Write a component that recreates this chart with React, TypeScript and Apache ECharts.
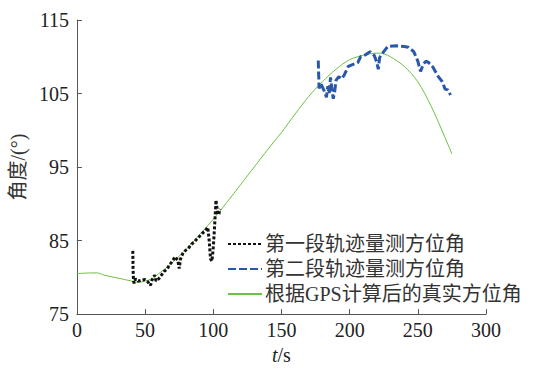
import React, { useEffect, useRef } from "react";
import * as echarts from "echarts";

const xTicks = [0, 50, 100, 150, 200, 250, 300];
const yTicks = [75, 85, 95, 105, 115];

const seriesNames = [
  "第一段轨迹量测方位角",
  "第二段轨迹量测方位角",
  "根据GPS计算后的真实方位角",
];

// true azimuth from GPS
const gpsT = [0, 10, 15, 20, 30, 40, 45, 50, 55, 60, 65, 70, 80, 90, 100, 110, 120, 130, 140, 150, 160, 170, 180, 190, 200, 210, 220, 225, 230, 240, 250, 260, 270, 275];
const gpsV = [80.5, 80.6, 80.6, 80.3, 79.9, 79.5, 79.3, 79.5, 79.8, 80.5, 81.2, 82.0, 83.8, 85.8, 87.9, 90.2, 92.6, 95.0, 97.4, 99.7, 102.2, 104.6, 106.6, 108.3, 109.6, 110.2, 110.5, 110.4, 110.0, 108.7, 106.6, 103.2, 99.0, 96.8];

// first segment measurement
const seg1T = [41, 41.2, 41.5, 42, 43, 45, 47, 50, 52, 54, 55, 57, 58, 60, 62, 64, 66, 68, 70, 72, 74, 75, 76, 78, 80, 82, 84, 86, 88, 90, 92, 94, 96, 97, 98, 99, 100, 101, 102, 103, 104, 105];
const seg1V = [83.6, 81, 79.5, 79.2, 79.8, 79.5, 79.6, 79.7, 79.4, 78.9, 79.6, 80.3, 79.5, 79.8, 80.3, 80.8, 81.1, 81.7, 82.2, 82.8, 82.3, 81.2, 82.5, 83.4, 83.7, 84.0, 84.5, 84.8, 85.2, 85.6, 86.0, 86.3, 86.8, 85, 82.5, 82.2, 84, 87, 90.5, 89, 88.5, 89.3];

// second segment measurement
const seg2T = [177, 177.3, 177.6, 179, 181, 183, 184, 185, 186, 187, 188, 189, 190, 192, 194, 196, 199, 203, 206, 208, 212, 215, 218, 220, 221, 222, 225, 228, 234, 240, 243, 247, 250, 252, 254, 256, 258, 261, 265, 268, 270, 272, 274];
const seg2V = [109.5, 107.5, 105.7, 106.3, 105.5, 104.5, 106, 105, 107.2, 105.6, 104.3, 105.2, 106.8, 107.3, 107, 107.5, 108.7, 109.0, 109.2, 110.0, 110.3, 110.7, 110.2, 109.2, 108.3, 109.9, 110.7, 111.4, 111.5, 111.4, 111.3, 110.7, 109.4, 108.0, 109.0, 109.4, 109.2, 108.6, 107.3, 106.6, 105.6, 105.5, 104.8];

const zip = (a: number[], b: number[]) => a.map((t, i) => [t, b[i]]);

const FONT = '"Liberation Serif", "Noto Sans CJK SC", serif';

export default function App() {
  const ref = useRef<HTMLDivElement>(null);
  useEffect(() => {
    if (!ref.current) return;
    const chart = echarts.init(ref.current, undefined, { renderer: "svg" });
    chart.setOption({
      animation: false,
      backgroundColor: "#fff",
      textStyle: { fontFamily: FONT },
      grid: { left: 74, right: 56, top: 20, bottom: 51 },
      legend: {
        orient: "vertical",
        left: 222,
        top: 229,
        itemGap: 5,
        itemWidth: 34,
        itemHeight: 12,
        data: seriesNames,
        itemStyle: { opacity: 0 },
        textStyle: { fontFamily: FONT, fontSize: 20, color: "#333", padding: [0, 0, 0, -2] },
      },
      xAxis: {
        type: "value",
        min: xTicks[0],
        max: xTicks[xTicks.length - 1],
        interval: 50,
        name: "{i|t}/s",
        nameLocation: "middle",
        nameGap: 26,
        nameTextStyle: {
          fontFamily: FONT,
          fontSize: 20,
          color: "#222",
          rich: { i: { fontStyle: "italic", fontFamily: FONT, fontSize: 20, color: "#222" } },
        },
        axisLine: { lineStyle: { color: "#555", width: 1 } },
        axisTick: { inside: true, length: 5, lineStyle: { color: "#555" } },
        axisLabel: { fontFamily: FONT, fontSize: 20, color: "#222", margin: 6 },
        splitLine: { show: false },
      },
      yAxis: {
        type: "value",
        min: yTicks[0],
        max: yTicks[yTicks.length - 1],
        interval: 10,
        name: "角度/(°)",
        nameLocation: "middle",
        nameGap: 40,
        nameTextStyle: { fontFamily: FONT, fontSize: 20, color: "#333" },
        axisLine: { show: true, lineStyle: { color: "#555", width: 1 } },
        axisTick: { show: true, inside: true, length: 5, lineStyle: { color: "#555" } },
        axisLabel: { fontFamily: FONT, fontSize: 20, color: "#222", margin: 8 },
        splitLine: { show: false },
      },
      series: [
        {
          name: seriesNames[0],
          type: "line",
          data: zip(seg1T, seg1V),
          symbol: "none",
          z: 3,
          lineStyle: { color: "#111", width: 3, type: [3, 2] },
          itemStyle: { color: "#111" },
        },
        {
          name: seriesNames[1],
          type: "line",
          data: zip(seg2T, seg2V),
          symbol: "none",
          z: 3,
          lineStyle: { color: "#2a58a8", width: 3, type: [8, 3] },
          itemStyle: { color: "#2a58a8" },
        },
        {
          name: seriesNames[2],
          type: "line",
          data: zip(gpsT, gpsV),
          symbol: "none",
          smooth: 0.3,
          z: 2,
          lineStyle: { color: "#6cc043", width: 1 },
          itemStyle: { color: "#6cc043" },
        },
      ],
    });
    return () => chart.dispose();
  }, []);
  return (
    <div
      ref={ref}
      style={{ position: "absolute", left: 0, top: 0, width: 542, height: 370 }}
    />
  );
}
